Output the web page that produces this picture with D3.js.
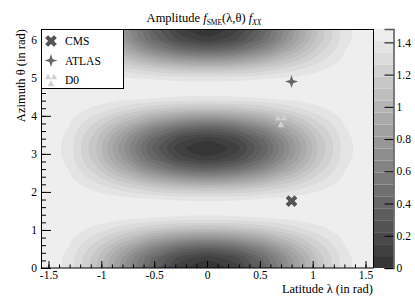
<!DOCTYPE html>
<html>
<head>
<meta charset="UTF-8">
<style>
  body { margin: 0; background: #fff; }
  svg { display: block; }
  text { font-family: "Liberation Serif", "DejaVu Serif", serif; fill: #000; }
</style>
</head>
<body>
<svg id="chart" width="415" height="299"></svg>
<script src="https://d3js.org/d3.v7.min.js"></script>
<script>

// grid nodes (rad)
let latitudes = [-1.571, -1.309, -1.047, -0.785, -0.524, -0.262, 0, 0.262, 0.524, 0.785, 1.047, 1.309, 1.571];
let azimuths = [0, 0.262, 0.524, 0.785, 1.047, 1.309, 1.571, 1.833, 2.094, 2.356, 2.618, 2.880,
                3.142, 3.403, 3.665, 3.927, 4.189, 4.451, 4.712, 4.974, 5.236, 5.498, 5.760, 6.021, 6.283];

// amplitude read at each node, one row per azimuth
let amplitude = [
  [1.48, 1.381, 1.11, 0.74, 0.37, 0.099, 0, 0.099, 0.37, 0.74, 1.11, 1.381, 1.48],
  [1.48, 1.388, 1.135, 0.79, 0.444, 0.192, 0.099, 0.192, 0.444, 0.79, 1.135, 1.388, 1.48],
  [1.48, 1.406, 1.203, 0.925, 0.648, 0.444, 0.37, 0.444, 0.648, 0.925, 1.203, 1.406, 1.48],
  [1.48, 1.43, 1.295, 1.11, 0.925, 0.79, 0.74, 0.79, 0.925, 1.11, 1.295, 1.43, 1.48],
  [1.48, 1.455, 1.388, 1.295, 1.203, 1.135, 1.11, 1.135, 1.203, 1.295, 1.388, 1.455, 1.48],
  [1.48, 1.473, 1.455, 1.43, 1.406, 1.388, 1.381, 1.388, 1.406, 1.43, 1.455, 1.473, 1.48],
  [1.48, 1.48, 1.48, 1.48, 1.48, 1.48, 1.48, 1.48, 1.48, 1.48, 1.48, 1.48, 1.48],
  [1.48, 1.473, 1.455, 1.43, 1.406, 1.388, 1.381, 1.388, 1.406, 1.43, 1.455, 1.473, 1.48],
  [1.48, 1.455, 1.388, 1.295, 1.203, 1.135, 1.11, 1.135, 1.203, 1.295, 1.388, 1.455, 1.48],
  [1.48, 1.43, 1.295, 1.11, 0.925, 0.79, 0.74, 0.79, 0.925, 1.11, 1.295, 1.43, 1.48],
  [1.48, 1.406, 1.203, 0.925, 0.648, 0.444, 0.37, 0.444, 0.648, 0.925, 1.203, 1.406, 1.48],
  [1.48, 1.388, 1.135, 0.79, 0.444, 0.192, 0.099, 0.192, 0.444, 0.79, 1.135, 1.388, 1.48],
  [1.48, 1.381, 1.11, 0.74, 0.37, 0.099, 0, 0.099, 0.37, 0.74, 1.11, 1.381, 1.48],
  [1.48, 1.388, 1.135, 0.79, 0.444, 0.192, 0.099, 0.192, 0.444, 0.79, 1.135, 1.388, 1.48],
  [1.48, 1.406, 1.203, 0.925, 0.648, 0.444, 0.37, 0.444, 0.648, 0.925, 1.203, 1.406, 1.48],
  [1.48, 1.43, 1.295, 1.11, 0.925, 0.79, 0.74, 0.79, 0.925, 1.11, 1.295, 1.43, 1.48],
  [1.48, 1.455, 1.388, 1.295, 1.203, 1.135, 1.11, 1.135, 1.203, 1.295, 1.388, 1.455, 1.48],
  [1.48, 1.473, 1.455, 1.43, 1.406, 1.388, 1.381, 1.388, 1.406, 1.43, 1.455, 1.473, 1.48],
  [1.48, 1.48, 1.48, 1.48, 1.48, 1.48, 1.48, 1.48, 1.48, 1.48, 1.48, 1.48, 1.48],
  [1.48, 1.473, 1.455, 1.43, 1.406, 1.388, 1.381, 1.388, 1.406, 1.43, 1.455, 1.473, 1.48],
  [1.48, 1.455, 1.388, 1.295, 1.203, 1.135, 1.11, 1.135, 1.203, 1.295, 1.388, 1.455, 1.48],
  [1.48, 1.43, 1.295, 1.11, 0.925, 0.79, 0.74, 0.79, 0.925, 1.11, 1.295, 1.43, 1.48],
  [1.48, 1.406, 1.203, 0.925, 0.648, 0.444, 0.37, 0.444, 0.648, 0.925, 1.203, 1.406, 1.48],
  [1.48, 1.388, 1.135, 0.79, 0.444, 0.192, 0.099, 0.192, 0.444, 0.79, 1.135, 1.388, 1.48],
  [1.48, 1.381, 1.11, 0.74, 0.37, 0.099, 0, 0.099, 0.37, 0.74, 1.11, 1.381, 1.48]
];

// experiments
let experiments = ["CMS", "ATLAS", "D0"];
let expLatitude = [0.80, 0.80, 0.70];
let expAzimuth = [1.76, 4.90, 3.86];

let xTicks = [-1.5, -1, -0.5, 0, 0.5, 1, 1.5];
let yTicks = [0, 1, 2, 3, 4, 5, 6];
let zTicks = [0, 0.2, 0.4, 0.6, 0.8, 1, 1.2, 1.4];
let zMax = 1.483, nLevels = 20;

let svg = d3.select("#chart");

let x = d3.scaleLinear().domain([-Math.PI / 2, Math.PI / 2]).range([41, 373]);
let y = d3.scaleLinear().domain([0, 2 * Math.PI]).range([268, 29]);
let z = d3.scaleLinear().domain([0, zMax]).range([268, 29]);
let grey = d3.scaleLinear().domain([0, nLevels - 1]).range(["#363636", "#eeeeee"]);

svg.append("defs").append("clipPath").attr("id", "plotclip")
  .append("rect").attr("x", 41).attr("y", 29).attr("width", 332).attr("height", 239);

// contours
let nx = latitudes.length, ny = azimuths.length;
let gx = d3.scaleLinear().domain([0, nx - 1]).range([x(latitudes[0]), x(latitudes[nx - 1])]);
let gy = d3.scaleLinear().domain([0, ny - 1]).range([y(azimuths[0]), y(azimuths[ny - 1])]);
let thresholds = d3.range(1, nLevels).map(k => k * zMax / nLevels);
let contours = d3.contours().size([nx, ny]).thresholds(thresholds)(amplitude.flat());

let ringLine = d3.line()
  .x(p => gx(p[0] - 0.5))
  .y(p => gy(p[1] - 0.5))
  .curve(d3.curveCatmullRomClosed.alpha(0.5));

let plot = svg.append("g").attr("clip-path", "url(#plotclip)");
plot.append("rect").attr("x", 41).attr("y", 29).attr("width", 332).attr("height", 239)
  .attr("fill", grey(0));
plot.selectAll("path.level")
  .data(contours)
  .enter().append("path")
  .attr("class", "level")
  .attr("fill", (d, i) => grey(i + 1))
  .attr("fill-rule", "evenodd")
  .attr("d", d => d.coordinates.map(poly => poly.map(ring => ringLine(ring.slice(0, -1))).join("")).join(""));

// axes (ticks inside the frame, like ROOT)
let xAxis = svg.append("g").attr("transform", "translate(0,268)");
xAxis.call(d3.axisBottom(x).tickValues(d3.range(-15, 16).map(v => v / 10)).tickSize(-3.6).tickFormat(""));
xAxis.append("g").call(d3.axisBottom(x).tickValues(xTicks).tickSize(-7).tickPadding(2.5).tickFormat(d => String(d)));
let yAxis = svg.append("g").attr("transform", "translate(41,0)");
yAxis.call(d3.axisLeft(y).tickValues(d3.range(0, 32).map(v => v / 5)).tickSize(-5).tickFormat(""));
yAxis.append("g").call(d3.axisLeft(y).tickValues(yTicks).tickSize(-10).tickPadding(4).tickFormat(d => String(d)));
svg.selectAll(".domain").remove();
svg.selectAll(".tick line").attr("stroke", "#000");
svg.selectAll(".tick text").attr("font-size", 11.5);

svg.append("rect").attr("x", 41.5).attr("y", 29.5).attr("width", 332).attr("height", 238.5)
  .attr("fill", "none").attr("stroke", "#000");

// colour bar
let bar = svg.append("g");
bar.selectAll("rect")
  .data(d3.range(nLevels))
  .enter().append("rect")
  .attr("x", 374)
  .attr("width", 19.5)
  .attr("y", k => z((k + 1) * zMax / nLevels))
  .attr("height", k => z(k * zMax / nLevels) - z((k + 1) * zMax / nLevels))
  .attr("fill", k => grey(k));
let zAxis = svg.append("g").attr("transform", "translate(393.5,0)")
  .call(d3.axisRight(z).tickValues(zTicks).tickSize(-9).tickPadding(3).tickFormat(d => String(d)));
zAxis.select(".domain").attr("stroke", "#555").attr("stroke-width", 1.5);
zAxis.selectAll(".tick line").attr("stroke", "#000");
zAxis.selectAll(".tick text").attr("font-size", 11.5);

// marker shapes
let markerPath = {
  "CMS": d3.symbol().type(d3.symbolCross).size(85)(),
  "ATLAS": "M0,-6.5L1.6,-1.6L6.5,0L1.6,1.6L0,6.5L-1.6,1.6L-6.5,0L-1.6,-1.6Z",
  "D0": "M-3,-6.5L0,-0.8L-6,-0.8Z M3,-6.5L6,-0.8L0,-0.8Z M0,0.2L3.3,6.2L-3.3,6.2Z"
};
let markerRotate = { "CMS": 45, "ATLAS": 0, "D0": 0 };
let markerColor = { "CMS": "#555555", "ATLAS": "#666666", "D0": "#d2d2d2" };

svg.append("g").selectAll("path")
  .data(experiments)
  .enter().append("path")
  .attr("d", d => markerPath[d])
  .attr("fill", d => markerColor[d])
  .attr("transform", (d, i) => "translate(" + x(expLatitude[i]) + "," + y(expAzimuth[i]) + ") rotate(" + markerRotate[d] + ")");

// legend
let legend = svg.append("g");
legend.append("rect").attr("x", 41.5).attr("y", 29.5).attr("width", 82).attr("height", 59)
  .attr("fill", "#fff").attr("stroke", "#000");
let entry = legend.selectAll("g.entry")
  .data(experiments)
  .enter().append("g")
  .attr("class", "entry")
  .attr("transform", (d, i) => "translate(0," + (41 + i * 19.5) + ")");
entry.append("path")
  .attr("d", d => markerPath[d])
  .attr("fill", d => markerColor[d])
  .attr("transform", d => "translate(51,0) rotate(" + markerRotate[d] + ")");
entry.append("text")
  .attr("x", 65).attr("y", 4)
  .attr("font-size", 11.5)
  .text(d => d);

// title
let title = svg.append("text").attr("x", 204).attr("y", 22).attr("text-anchor", "middle").attr("font-size", 12.5);
title.append("tspan").text("Amplitude ");
title.append("tspan").attr("font-style", "italic").text("f");
title.append("tspan").attr("font-size", 7.5).attr("dy", 3).text("SME");
title.append("tspan").attr("dy", -3).text("(λ,θ) ");
title.append("tspan").attr("font-style", "italic").text("f");
title.append("tspan").attr("font-style", "italic").attr("font-size", 7.5).attr("dy", 3).text("XX");

svg.append("text").attr("x", 373).attr("y", 293).attr("text-anchor", "end").attr("font-size", 12.5)
  .text("Latitude λ (in rad)");
svg.append("text").attr("transform", "translate(25,29) rotate(-90)").attr("text-anchor", "end").attr("font-size", 12.5)
  .text("Azimuth θ (in rad)");

</script>
</body>
</html>
